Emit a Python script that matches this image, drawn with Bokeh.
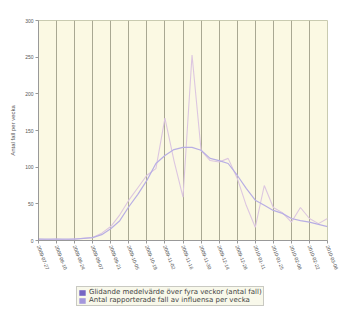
from bokeh.plotting import figure
from bokeh.layouts import column
from bokeh.models import FixedTicker, Legend, LegendItem, ColumnDataSource
from bokeh.embed import file_html
from bokeh.resources import INLINE

# weekly index and tick labels (every second week)
weeks = list(range(33))
tick_weeks = list(range(0, 33, 2))
tick_labels = ["2009-07-27", "2009-08-10", "2009-08-24", "2009-09-07", "2009-09-21",
               "2009-10-05", "2009-10-19", "2009-11-02", "2009-11-16", "2009-11-30",
               "2009-12-14", "2009-12-28", "2010-01-11", "2010-01-25", "2010-02-08",
               "2010-02-22", "2010-03-08"]

weekly_cases = [2, 1, 2, 1, 2, 3, 4, 10, 19, 35, 55, 72, 89, 98, 167, 109, 59,
                253, 123, 109, 107, 112, 85, 48, 18, 75, 45, 38, 25, 45, 30, 23, 30]
moving_avg = [2, 2, 2, 2, 2, 3, 4, 8, 16, 27, 46, 63, 82, 105, 116, 124, 127,
              127, 123, 112, 109, 105, 89, 71, 55, 48, 41, 37, 30, 27, 25, 22, 19]

series_names = ["Glidande medelvärde över fyra veckor (antal fall)",
                "Antal rapporterade fall av influensa per vecka"]
y_label = "Antal fall per vecka"

FONT = "Liberation Sans"

p = figure(width=340, height=282, output_backend="svg", toolbar_location=None,
           x_range=(0, 32), y_range=(0, 300),
           min_border_left=38, min_border_right=13, min_border_top=20, min_border_bottom=42)
p.background_fill_color = "#fbf9e3"
p.border_fill_color = "white"
p.outline_line_color = "#c9cbb0"

src = ColumnDataSource(dict(week=weeks, cases=weekly_cases, avg=moving_avg))
p.line("week", "cases", source=src, line_color="#dcc6e0", line_width=1.1)
p.line("week", "avg", source=src, line_color="#b8aee4", line_width=1.2)

p.xaxis.ticker = FixedTicker(ticks=tick_weeks)
p.xaxis.major_label_overrides = {w: lab for w, lab in zip(tick_weeks, tick_labels)}
p.xaxis.major_label_orientation = -1.2
p.yaxis.ticker = FixedTicker(ticks=[0, 50, 100, 150, 200, 250, 300])
p.yaxis.axis_label = y_label

for ax in (p.xaxis, p.yaxis):
    ax.major_label_text_font = FONT
    ax.major_label_text_font_size = "5px"
    ax.major_label_text_color = "#555555"
    ax.axis_line_color = "#999999"
    ax.major_tick_line_color = "#999999"
    ax.major_tick_in = 0
    ax.major_tick_out = 3
    ax.minor_tick_line_color = None
    ax.major_label_standoff = 2
p.yaxis.axis_label_text_font = FONT
p.yaxis.axis_label_text_font_size = "6px"
p.yaxis.axis_label_text_font_style = "normal"
p.yaxis.axis_label_text_color = "#555555"
p.yaxis.axis_label_standoff = 6

p.xgrid.grid_line_color = "#a9a892"
p.xgrid.grid_line_width = 1
p.ygrid.grid_line_color = None

# legend strip below the chart
lg = figure(width=340, height=30, output_backend="svg", toolbar_location=None,
            x_range=(0, 32), y_range=(1000, 2000),
            min_border_left=0, min_border_right=0, min_border_top=0, min_border_bottom=0)
lg.axis.visible = False
lg.grid.visible = False
lg.outline_line_color = None
lg.background_fill_color = "white"
lg.border_fill_color = "white"
sw1 = lg.varea(x="week", y1="avg", y2="avg", source=src, fill_color="#7565c4")
sw2 = lg.varea(x="week", y1="cases", y2="cases", source=src, fill_color="#a497dc")

legend = Legend(items=[LegendItem(label=series_names[0], renderers=[sw1]),
                       LegendItem(label=series_names[1], renderers=[sw2])],
                location=(38, 6), orientation="vertical")
legend.label_text_font = "DejaVu Sans"
legend.label_text_font_size = "7px"
legend.label_text_color = "#444444"
legend.label_height = 6
legend.glyph_height = 7
legend.glyph_width = 8
legend.label_standoff = 3
legend.spacing = 0
legend.padding = 1
legend.margin = 0
legend.background_fill_color = "#f8f8ea"
legend.background_fill_alpha = 1
legend.border_line_color = "#999999"
lg.add_layout(legend, "center")

layout = column(p, lg, spacing=0)
open("out.html", "w").write(file_html(layout, INLINE))
